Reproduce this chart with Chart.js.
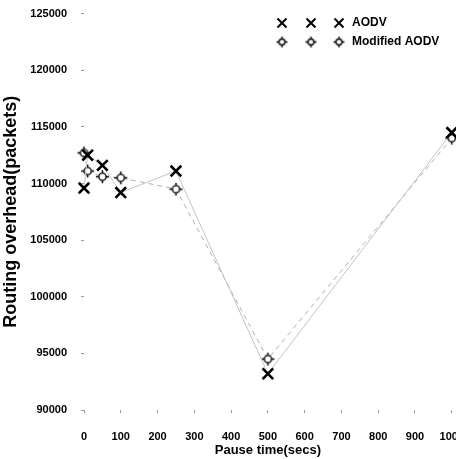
<!DOCTYPE html>
<html>
<head>
<meta charset="utf-8">
<script src="https://cdn.jsdelivr.net/npm/chart.js@4.4.1/dist/chart.umd.min.js"></script>
<style>
  html, body { margin: 0; padding: 0; background: #fff; overflow: hidden; }
  #chart1 { display: block; position: relative; top: -7px; }
</style>
</head>
<body>
<canvas id="chart1" width="481" height="466"></canvas>
<script>
// values
const pauseTimes = [0, 10, 50, 100, 250, 500, 1000];
const aodv = [109600, 112500, 111600, 109200, 111100, 93200, 114500];
const modifiedAodv = [112700, 111100, 110600, 110500, 109500, 94500, 114000];
const xTicks = [0, 100, 200, 300, 400, 500, 600, 700, 800, 900, 1000];
const yTicks = [90000, 95000, 100000, 105000, 110000, 115000, 120000, 125000];

// circle with four little spikes, used for Modified AODV
function makeStarCircle(size, r, spike, lw) {
  const c = document.createElement('canvas');
  c.width = size; c.height = size;
  const g = c.getContext('2d');
  const m = size / 2;
  g.strokeStyle = '#000';
  g.lineWidth = lw;
  g.beginPath();
  g.moveTo(m, m - spike); g.lineTo(m, m - r);
  g.moveTo(m, m + r); g.lineTo(m, m + spike);
  g.moveTo(m - spike, m); g.lineTo(m - r, m);
  g.moveTo(m + r, m); g.lineTo(m + spike, m);
  g.stroke();
  g.beginPath();
  g.arc(m, m, r, 0, Math.PI * 2);
  g.fillStyle = '#fff';
  g.fill();
  g.stroke();
  return c;
}
const starBig = makeStarCircle(15, 3.6, 6.5, 1.4);
const starSmall = makeStarCircle(13, 3, 5.5, 1.3);

function toPoints(xs, ys) {
  return xs.map((x, i) => ({ x: x, y: ys[i] }));
}

// legend drawn inside the plot, three markers per entry like the original
const insideLegend = {
  id: 'insideLegend',
  afterDraw(chart) {
    const ctx = chart.ctx;
    const xs = [282, 311, 339];
    const y1 = 30, y2 = 49; // canvas sits 7px above the page top
    ctx.save();
    ctx.fillStyle = '#000';
    ctx.font = 'bold 12px "Liberation Sans", Arial, sans-serif';
    ctx.textBaseline = 'middle';
    // AODV row
    ctx.strokeStyle = '#000';
    ctx.lineWidth = 2;
    xs.forEach(x => {
      ctx.beginPath();
      ctx.moveTo(x - 4.5, y1 - 4.5); ctx.lineTo(x + 4.5, y1 + 4.5);
      ctx.moveTo(x + 4.5, y1 - 4.5); ctx.lineTo(x - 4.5, y1 + 4.5);
      ctx.stroke();
    });
    ctx.fillText(chart.data.datasets[0].label, 352, y1);
    // Modified AODV row
    xs.forEach(x => ctx.drawImage(starSmall, x - 6.5, y2 - 6.5));
    ctx.fillText(chart.data.datasets[1].label, 352, y2);
    ctx.restore();
  }
};

const tickFont = { family: '"Liberation Sans", Arial, sans-serif', size: 11, weight: 'bold' };

new Chart(document.getElementById('chart1').getContext('2d'), {
  type: 'line',
  data: {
    datasets: [{
      label: 'AODV',
      data: toPoints(pauseTimes, aodv),
      borderColor: '#c4c4c4',
      borderWidth: 1,
      pointStyle: 'crossRot',
      pointRadius: 7.5,
      pointBorderWidth: 2.6,
      pointBorderColor: '#000',
      pointBackgroundColor: '#000',
      fill: false,
      tension: 0,
      clip: false,
    }, {
      label: 'Modified AODV',
      data: toPoints(pauseTimes, modifiedAodv),
      borderColor: '#b0b0b0',
      borderWidth: 1,
      borderDash: [5, 4],
      pointStyle: starBig,
      pointRadius: 6,
      fill: false,
      tension: 0,
      clip: false,
    }],
  },
  options: {
    responsive: false,
    animation: false,
    devicePixelRatio: 1,
    layout: { padding: { top: 7.4, right: 8, left: 0, bottom: 0 } },
    plugins: {
      legend: { display: false },
      tooltip: { enabled: false },
    },
    scales: {
      x: {
        type: 'linear',
        min: 0,
        max: 1000,
        afterBuildTicks: s => { s.ticks = xTicks.map(v => ({ value: v })); },
        afterFit: s => { s.height = 49; },
        grid: { drawOnChartArea: false, drawTicks: true, tickLength: 3, color: '#999' },
        border: { display: false },
        ticks: { color: '#000', font: tickFont, padding: 17, maxRotation: 0, callback: v => String(v) },
        title: {
          display: true,
          text: 'Pause time(secs)',
          color: '#000',
          font: { family: '"Liberation Sans", Arial, sans-serif', size: 13, weight: 'bold' },
          padding: { top: 0, bottom: 1 },
        },
      },
      y: {
        min: 90000,
        max: 125000,
        afterBuildTicks: s => { s.ticks = yTicks.map(v => ({ value: v })); },
        afterFit: s => { s.width = 84; },
        grid: { drawOnChartArea: false, drawTicks: true, tickLength: 3, color: '#999' },
        border: { display: false },
        ticks: { color: '#000', font: tickFont, padding: 14, callback: v => String(v) },
        title: {
          display: true,
          text: 'Routing overhead(packets)',
          color: '#000',
          font: { family: '"Liberation Sans", Arial, sans-serif', size: 18, weight: 'bold' },
          padding: { top: 0, bottom: 0 },
        },
      },
    },
  },
  plugins: [insideLegend],
});
</script>
</body>
</html>
